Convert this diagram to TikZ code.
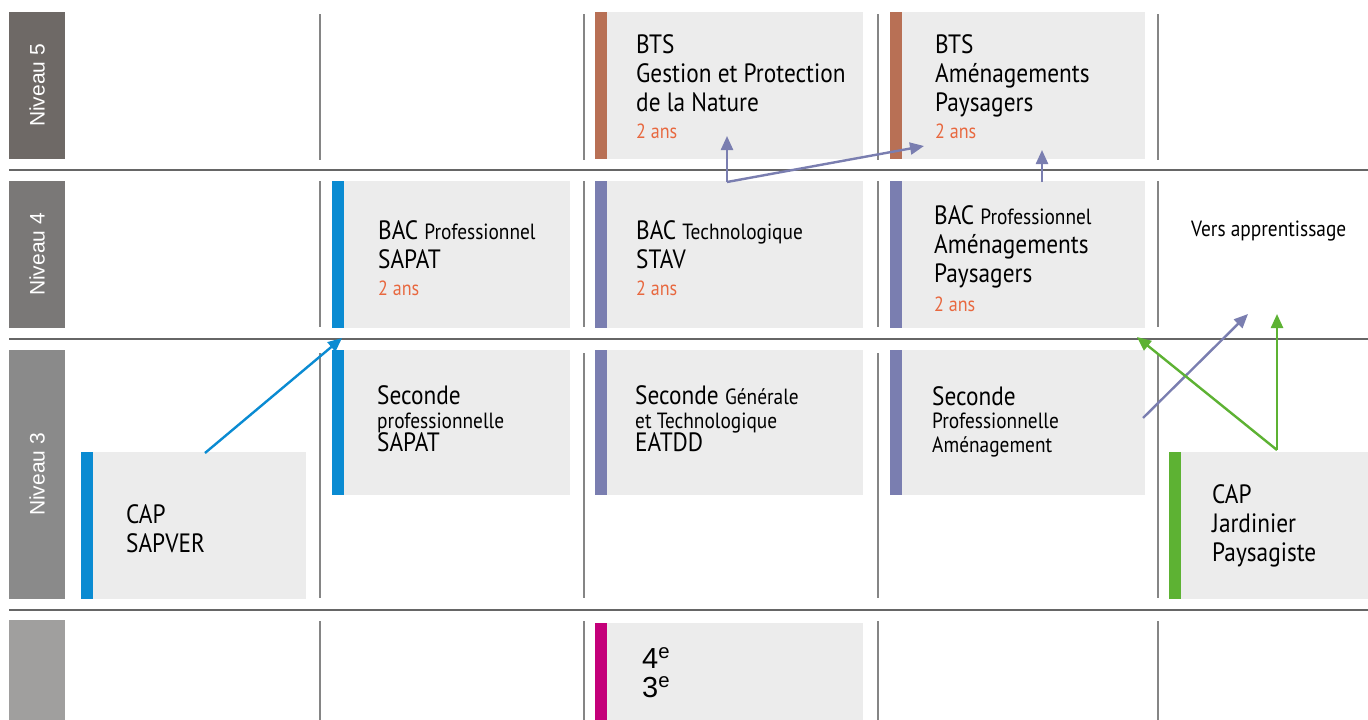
\documentclass[tikz,border=0pt]{standalone}
\usepackage{fontspec}
\setmainfont{PT Sans}[FakeStretch=0.88]
\newfontfamily\arialf{Liberation Sans}
\usetikzlibrary{arrows.meta}
\definecolor{lvA}{HTML}{6E6966}
\definecolor{lvB}{HTML}{7A7877}
\definecolor{lvC}{HTML}{8A8A8A}
\definecolor{lvD}{HTML}{A09F9E}
\definecolor{boxg}{HTML}{ECECEC}
\definecolor{cbrown}{HTML}{B87055}
\definecolor{cblue}{HTML}{0A8BD2}
\definecolor{cpurple}{HTML}{7A7EB0}
\definecolor{cgreen}{HTML}{5DB233}
\definecolor{cmag}{HTML}{C4007A}
\definecolor{corange}{HTML}{E8683F}
\definecolor{sepc}{HTML}{666666}
\tikzset{
  sepline/.style={draw=sepc,line width=2.6pt},
  vline/.style={draw=sepc!80,line width=1.2pt},
  lvtext/.style={text=white,font=\arialf\fontsize{21}{21}\selectfont,rotate=90,inner sep=0},
  big/.style={anchor=base west,inner sep=0,font=\fontsize{26.5}{28}\selectfont},
  sml/.style={anchor=base west,inner sep=0,font=\fontsize{22}{24}\selectfont},
  dur/.style={anchor=base west,inner sep=0,text=corange,font=\fontsize{20.5}{22}\selectfont},
  arr/.style={line width=2.4pt,-{Triangle[length=14pt,width=12pt]}},
}
\newcommand\cbox[5]{%
  \fill[boxg] (#1+12,#2) rectangle (#3,#4);
  \fill[#5] (#1,#2) rectangle (#1+12,#4);}
\newcommand\smltxt[1]{{\fontsize{22}{24}\selectfont #1}}
\begin{document}
\begin{tikzpicture}[x=1pt,y=-1pt]
\useasboundingbox (0,0) rectangle (1368,720);
\fill[white] (0,0) rectangle (1368,720);
% separators
\foreach \yy in {170,339,610} \draw[sepline] (9,\yy) -- (1368,\yy);
\foreach \xx in {320,584,878,1158} {
  \draw[vline] (\xx,14) -- (\xx,160);
  \draw[vline] (\xx,181) -- (\xx,327);
  \draw[vline] (\xx,353) -- (\xx,598);
  \draw[vline] (\xx,621) -- (\xx,720);
}
% level labels
\fill[lvA] (9,12) rectangle (65,159);
\node[lvtext] (n5) at (37,85.5) {Niveau 5};
\fill[lvB] (9,181) rectangle (65,328);
\node[lvtext] (n4) at (37,254.5) {Niveau 4};
\fill[lvC] (9,350) rectangle (65,599);
\node[lvtext] (n3) at (37,474.5) {Niveau 3};
\fill[lvD] (9,620) rectangle (65,720);
% boxes
\cbox{595}{12}{863}{159}{cbrown}
\cbox{890}{12}{1145}{159}{cbrown}
\cbox{332}{181}{570}{328}{cblue}
\cbox{595}{181}{863}{328}{cpurple}
\cbox{890}{181}{1145}{328}{cpurple}
\cbox{332}{350}{570}{495}{cblue}
\cbox{595}{350}{863}{495}{cpurple}
\cbox{890}{350}{1145}{495}{cpurple}
\cbox{81}{452}{306}{599}{cblue}
\cbox{1169}{452}{1368}{599}{cgreen}
\cbox{595}{623}{863}{720}{cmag}
% texts level 5
\node[big] (b1a) at (636,53) {BTS};
\node[big] (b1b) at (636,82) {Gestion et Protection};
\node[big] (b1c) at (636,111) {de la Nature};
\node[dur] (b1d) at (636,138) {2 ans};
\node[big] (b2a) at (935,53) {BTS};
\node[big] (b2b) at (935,82) {Aménagements};
\node[big] (b2c) at (935,111) {Paysagers};
\node[dur] (b2d) at (935,138) {2 ans};
% level 4
\node[big] (c1a) at (378,239) {BAC \smltxt{Professionnel}};
\node[big] (c1b) at (378,268) {SAPAT};
\node[dur] (c1c) at (378,295) {2 ans};
\node[big] (c2a) at (636,239) {BAC \smltxt{Technologique}};
\node[big] (c2b) at (636,268) {STAV};
\node[dur] (c2c) at (636,295) {2 ans};
\node[big] (c3a) at (934,224) {BAC \smltxt{Professionnel}};
\node[big] (c3b) at (934,253) {Aménagements};
\node[big] (c3c) at (934,282) {Paysagers};
\node[dur] (c3d) at (934,311) {2 ans};
\node[sml] (va) at (1191,236) {Vers apprentissage};
% level 3
\node[big] (d1a) at (377,404) {Seconde};
\node[sml] (d1b) at (377,428) {professionnelle};
\node[big] (d1c) at (377,451) {SAPAT};
\node[big] (d2a) at (635,404) {Seconde \smltxt{Générale}};
\node[sml] (d2b) at (635,428) {et Technologique};
\node[big] (d2c) at (635,451) {EATDD};
\node[big] (d3a) at (932,405) {Seconde};
\node[sml] (d3b) at (932,428) {Professionnelle};
\node[sml] (d3c) at (932,452) {Aménagement};
\node[big] (e1a) at (126,523) {CAP};
\node[big] (e1b) at (126,552) {SAPVER};
\node[big] (e2a) at (1212,503) {CAP};
\node[big] (e2b) at (1212,532) {Jardinier};
\node[big] (e2c) at (1212,561) {Paysagiste};
% bottom
\node[anchor=base west,inner sep=0,font=\arialf\fontsize{29}{29}\selectfont] (f1) at (642,668) {4\textsuperscript{e}};
\node[anchor=base west,inner sep=0,font=\arialf\fontsize{29}{29}\selectfont] (f2) at (642,697) {3\textsuperscript{e}};
% arrows
\coordinate (a1s) at (205,453);
\coordinate (a1e) at (342,338);
\draw[arr,cblue] (a1s) -- (a1e);
\coordinate (a2c) at (727,182);
\coordinate (a2u) at (727,136);
\coordinate (a2r) at (924,146);
\draw[arr,cpurple] (a2c) -- (a2u);
\draw[arr,cpurple] (a2c) -- (a2r);
\coordinate (a3s) at (1042,182);
\coordinate (a3e) at (1042,150);
\draw[arr,cpurple] (a3s) -- (a3e);
\coordinate (a4s) at (1143,418);
\coordinate (a4e) at (1248,314);
\draw[arr,cpurple] (a4s) -- (a4e);
\coordinate (g0) at (1277,450);
\coordinate (g1) at (1137,337);
\coordinate (g2) at (1277,314);
\draw[arr,cgreen] (g0) -- (g1);
\draw[arr,cgreen] (g0) -- (g2);
\end{tikzpicture}
\end{document}
